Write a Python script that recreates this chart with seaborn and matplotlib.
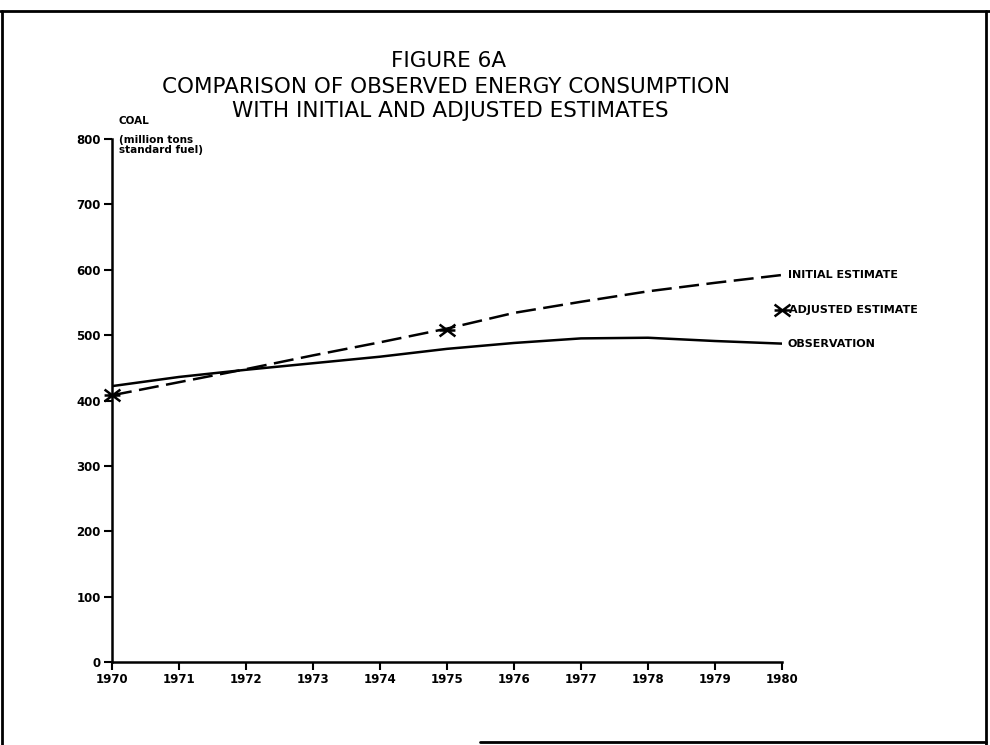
import matplotlib
matplotlib.use("Agg")
import matplotlib.pyplot as plt
from matplotlib.lines import Line2D
from matplotlib.path import Path
import seaborn as sns
import pandas as pd

# Coal consumption, million tons standard fuel
years = [1970, 1971, 1972, 1973, 1974, 1975, 1976, 1977, 1978, 1979, 1980]
observation = [422, 436, 447, 457, 467, 479, 488, 495, 496, 491, 487]
initial_estimate = [408, 428, 448, 469, 489, 510, 534, 551, 567, 580, 592]
adjusted_years = [1970, 1975, 1980]
adjusted_estimate = [408, 508, 538]

x_ticks = list(range(1970, 1981))
y_ticks = [0, 100, 200, 300, 400, 500, 600, 700, 800]

sns.set_theme(style="white")
plt.rcParams["font.family"] = ["DejaVu Sans"]
plt.rcParams["text.color"] = "black"
plt.rcParams["xtick.color"] = "black"
plt.rcParams["ytick.color"] = "black"

lines = pd.DataFrame({
    "year": years * 2,
    "value": observation + initial_estimate,
    "series": ["OBSERVATION"] * len(years) + ["INITIAL ESTIMATE"] * len(years),
})
adjusted = pd.DataFrame({"year": adjusted_years, "value": adjusted_estimate})

# Cross with a horizontal bar through its centre
cross_bar = Path(
    [(-1, -0.75), (1, 0.75), (-1, 0.75), (1, -0.75), (-1, 0), (1, 0)],
    [Path.MOVETO, Path.LINETO, Path.MOVETO, Path.LINETO, Path.MOVETO, Path.LINETO],
)

fig = plt.figure(figsize=(9.9, 7.45), dpi=100)
ax = fig.add_axes([112 / 990, 1 - 662 / 745, (782 - 112) / 990, (662 - 139) / 745])

sns.lineplot(data=lines, x="year", y="value", style="series",
             style_order=["OBSERVATION", "INITIAL ESTIMATE"],
             dashes={"OBSERVATION": "", "INITIAL ESTIMATE": (8, 3)},
             color="black", linewidth=1.8, legend=False, ax=ax)
sns.scatterplot(data=adjusted, x="year", y="value", marker=cross_bar,
                s=130, color="black", edgecolor="black", linewidth=1.8,
                legend=False, ax=ax, clip_on=False, zorder=5)

ax.set_xlim(1970, 1980)
ax.set_ylim(0, 800)
ax.set_xticks(x_ticks)
ax.set_yticks(y_ticks)
ax.set_xticklabels([str(t) for t in x_ticks], fontsize=8.5, fontweight="bold")
ax.set_yticklabels([str(t) for t in y_ticks], fontsize=8.5, fontweight="bold")
ax.set_xlabel("")
ax.set_ylabel("")
for side in ("top", "right"):
    ax.spines[side].set_visible(False)
for side in ("left", "bottom"):
    ax.spines[side].set_linewidth(1.8)
    ax.spines[side].set_color("black")
ax.tick_params(axis="both", direction="out", length=6, width=1.5,
               colors="black", pad=2)
ax.tick_params(axis="x", bottom=True)
ax.tick_params(axis="y", left=True)

# Direct labels at the line ends
label_kw = dict(fontsize=8, fontweight="bold", va="center", ha="left",
                clip_on=False, color="black")
ax.annotate("INITIAL ESTIMATE", xy=(1980, initial_estimate[-1]),
            xytext=(4, 0), textcoords="offset points", **label_kw)
ax.annotate("ADJUSTED ESTIMATE", xy=(1980, adjusted_estimate[-1]),
            xytext=(5, 0), textcoords="offset points", **label_kw)
ax.annotate("OBSERVATION", xy=(1980, observation[-1]),
            xytext=(4, 0), textcoords="offset points", **label_kw)

# Unit caption
ax.text(0.01, 1.035, "COAL", transform=ax.transAxes, fontsize=7.5,
        fontweight="bold", ha="left", va="center", color="black")
ax.text(0.01, 1.008, "(million tons\nstandard fuel)", transform=ax.transAxes,
        fontsize=7.5, fontweight="bold", ha="left", va="top",
        linespacing=1.0, color="black")

# Title block
title_kw = dict(fontsize=15.5, ha="center", va="center", color="black")
fig.text(449 / 990, 1 - 61 / 745, "FIGURE 6A", **title_kw)
fig.text(446 / 990, 1 - 87 / 745, "COMPARISON OF OBSERVED ENERGY CONSUMPTION",
         **title_kw)
fig.text(450 / 990, 1 - 111 / 745, "WITH INITIAL AND ADJUSTED ESTIMATES",
         **title_kw)

# Page frame
frame_kw = dict(color="black", linewidth=2, transform=fig.transFigure)
fig.add_artist(Line2D([0, 1], [1 - 11 / 745] * 2, **frame_kw))
fig.add_artist(Line2D([2 / 990] * 2, [1 - 11 / 745, 0], **frame_kw))
fig.add_artist(Line2D([986 / 990] * 2, [1 - 11 / 745, 0], **frame_kw))
fig.add_artist(Line2D([480 / 990, 986 / 990], [3 / 745] * 2, **frame_kw))

fig.savefig("out.png", dpi=100, facecolor="white")
